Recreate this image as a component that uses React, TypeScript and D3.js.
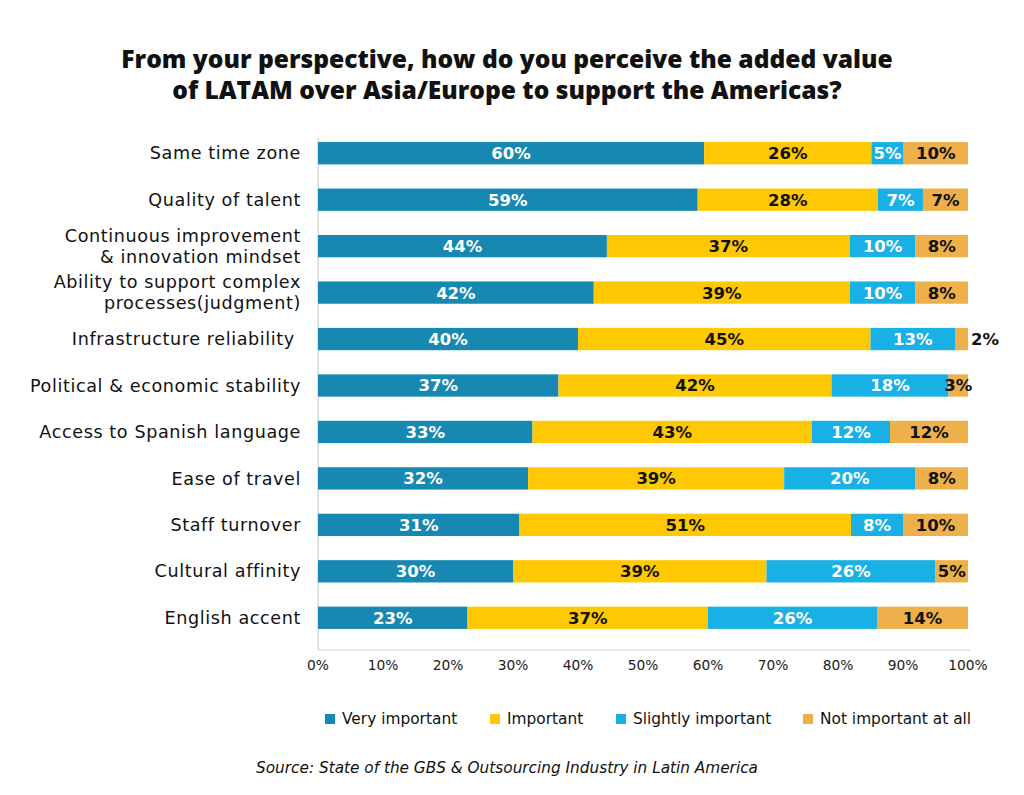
import React from "react";
import * as d3 from "d3";

const titleLines = [
  "From your perspective, how do you perceive the added value",
  "of LATAM over Asia/Europe to support the Americas?",
];

const categories = [
  "Same time zone",
  "Quality of talent",
  "Continuous improvement\n& innovation mindset",
  "Ability to support complex\nprocesses(judgment)",
  "Infrastructure reliability ",
  "Political & economic stability",
  "Access to Spanish language",
  "Ease of travel",
  "Staff turnover",
  "Cultural affinity",
  "English accent",
];

const seriesNames = ["Very important", "Important", "Slightly important", "Not important at all"];
const veryImportant = [60, 59, 44, 42, 40, 37, 33, 32, 31, 30, 23];
const important = [26, 28, 37, 39, 45, 42, 43, 39, 51, 39, 37];
const slightlyImportant = [5, 7, 10, 10, 13, 18, 12, 20, 8, 26, 26];
const notImportant = [10, 7, 8, 8, 2, 3, 12, 8, 10, 5, 14];
const xTicks = [0, 10, 20, 30, 40, 50, 60, 70, 80, 90, 100];
const sourceText = "Source: State of the GBS & Outsourcing Industry in Latin America";

const colors = ["#1688b1", "#fec902", "#19b1e5", "#eeb04a"];
const labelColors = ["#ffffff", "#111111", "#ffffff", "#111111"];
const FONT = "'Open Sans', 'DejaVu Sans', sans-serif";
const WIDE = "'DejaVu Sans', 'Open Sans', sans-serif";

export default function App() {
  const W = 1024;
  const H = 795;
  const x = d3.scaleLinear().domain([0, 100]).range([318, 968]);
  const y = d3
    .scaleBand<string>()
    .domain(categories)
    .range([130, 641])
    .paddingInner(0.52)
    .paddingOuter(0.26);

  const seriesValues = [veryImportant, important, slightlyImportant, notImportant];
  const rows = categories.map((c, i) => {
    const total = seriesValues.reduce((s, arr) => s + arr[i], 0);
    const row: any = { category: c };
    seriesNames.forEach((k, j) => {
      row[k] = (seriesValues[j][i] / total) * 100;
      row[k + "_raw"] = seriesValues[j][i];
    });
    return row;
  });
  const stacked = d3.stack<any>().keys(seriesNames)(rows);

  const legendX = [325, 490, 616, 803];

  return (
    <svg
      width={W}
      height={H}
      style={{ position: "absolute", left: 0, top: 0, background: "#fff" }}
      fontFamily={FONT}
    >
      <rect x={0} y={0} width={W} height={H} fill="#fff" />
      {titleLines.map((t, i) => (
        <text
          key={i}
          x={507}
          y={68 + i * 31}
          textAnchor="middle"
          fontSize={24.6}
          fontWeight={800}
          fill="#111"
        >
          {t}
        </text>
      ))}

      {/* axes */}
      <line x1={x(0)} x2={x(0)} y1={138} y2={650} stroke="#cfcfcf" strokeWidth={1.2} />
      <line x1={x(0)} x2={970} y1={650} y2={650} stroke="#cfcfcf" strokeWidth={1.2} />
      {xTicks.map((t) => (
        <text key={t} x={x(t)} y={670} textAnchor="middle" fontSize={13.8} fill="#222" fontFamily={WIDE}>
          {t + "%"}
        </text>
      ))}

      {/* category labels */}
      {categories.map((c) => {
        const lines = c.split("\n");
        const cy = (y(c) as number) + y.bandwidth() / 2;
        const lh = 21;
        const start = cy - ((lines.length - 1) * lh) / 2;
        return (
          <text
            key={c}
            x={301}
            textAnchor="end"
            fontSize={17.6}
            letterSpacing={0.6}
            fill="#111"
            fontFamily={WIDE}
            style={{ whiteSpace: "pre" }}
          >
            {lines.map((l, i) => (
              <tspan key={i} x={301} y={start + i * lh} dy="0.35em">
                {l}
              </tspan>
            ))}
          </text>
        );
      })}

      {/* bars */}
      {stacked.map((s, si) => (
        <g key={s.key}>
          {s.map((d, i) => {
            const x0 = x(d[0]);
            const x1 = x(d[1]);
            const yy = y(categories[i]) as number;
            return (
              <rect
                key={i}
                x={x0}
                y={yy}
                width={Math.max(0, x1 - x0)}
                height={y.bandwidth()}
                fill={colors[si]}
              />
            );
          })}
        </g>
      ))}

      {/* bar labels */}
      {stacked.map((s, si) => (
        <g key={s.key + "-lab"}>
          {s.map((d, i) => {
            const x0 = x(d[0]);
            const x1 = x(d[1]);
            const cy = (y(categories[i]) as number) + y.bandwidth() / 2;
            const raw = (d.data as any)[s.key + "_raw"];
            const small = x1 - x0 < 14;
            return (
              <text
                key={i}
                x={small ? x1 + 3 : (x0 + x1) / 2}
                y={cy}
                dy="0.36em"
                textAnchor={small ? "start" : "middle"}
                fontSize={16.5}
                fontWeight={700}
                fontFamily={WIDE}
                fill={small ? "#111" : labelColors[si]}
              >
                {raw + "%"}
              </text>
            );
          })}
        </g>
      ))}

      {/* legend */}
      {seriesNames.map((n, i) => (
        <g key={n}>
          <rect x={legendX[i]} y={714} width={10} height={10} fill={colors[i]} />
          <text x={legendX[i] + 17} y={719} dy="0.35em" fontSize={15.4} fill="#111" fontFamily={WIDE}>
            {n}
          </text>
        </g>
      ))}

      <text
        x={507}
        y={768}
        dy="0.35em"
        textAnchor="middle"
        fontSize={15.3}
        fontStyle="italic"
        fill="#111"
        fontFamily={WIDE}
      >
        {sourceText}
      </text>
    </svg>
  );
}
